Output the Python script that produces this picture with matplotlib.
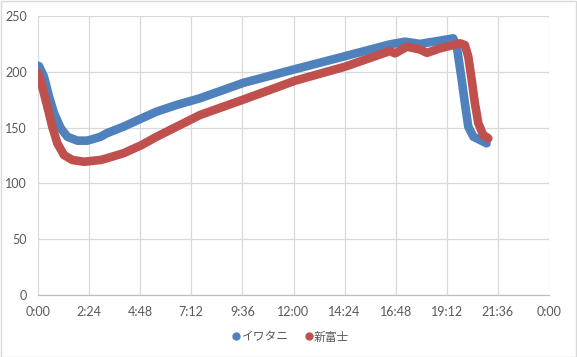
import matplotlib
matplotlib.use("Agg")
import matplotlib.pyplot as plt
from matplotlib.lines import Line2D
from matplotlib.patches import Rectangle

# Data (time in hours, values)
iwatani_t = [0.0, 0.05, 0.28, 0.52, 0.75, 1.07, 1.38, 1.85, 2.32, 2.94, 3.23, 4.01,
             4.87, 5.57, 6.51, 7.61, 9.63, 12.0, 14.42, 16.53, 17.24, 17.94, 18.9,
             19.5, 19.67, 19.74, 19.90, 20.05, 20.21, 20.45, 20.76, 21.07]
iwatani_v = [205.5, 205, 195.6, 177.7, 163, 149.4, 141.8, 138.3, 138.3, 141.8, 144.9, 150.8,
             158.3, 164.3, 170.3, 176.3, 190, 202, 214, 224.6, 227, 225, 228,
             230, 222.5, 213.5, 192.7, 171.8, 150.8, 141.8, 138.9, 135.9]

shinfuji_t = [0.0, 0.2, 0.44, 0.67, 0.91, 1.22, 1.61, 2.16, 2.94, 3.23, 4.01, 4.87,
              5.57, 6.51, 7.61, 9.63, 12.07, 14.42, 16.53, 16.77, 17.33, 17.94, 18.27,
              18.88, 19.82, 20.05, 20.21, 20.37, 20.52, 20.68, 20.91, 21.15]
shinfuji_v = [198.6, 186.6, 168.7, 150.8, 135.9, 125.4, 121, 119.4, 121, 122.5, 127, 134.4,
              141.8, 150.8, 161.3, 175, 192, 204.6, 218.6, 216.5, 222.5, 220, 217,
              221, 225.5, 224, 213.5, 192.7, 171.8, 153.9, 143.4, 140.4]

series_names = ["イワタニ", "新富士"]
series_colors = ["#4F81BD", "#C0504D"]

x_ticks = [0, 2.4, 4.8, 7.2, 9.6, 12.0, 14.4, 16.8, 19.2, 21.6, 24.0]
x_labels = ["0:00", "2:24", "4:48", "7:12", "9:36", "12:00", "14:24", "16:48", "19:12", "21:36", "0:00"]
y_ticks = [0, 50, 100, 150, 200, 250]

W, H = 577, 357
fig = plt.figure(figsize=(W / 100, H / 100), dpi=100)
ax = fig.add_axes([38 / W, 1 - 295 / H, (549 - 38) / W, (295 - 16) / H])

for t, v, c in [(iwatani_t, iwatani_v, series_colors[0]), (shinfuji_t, shinfuji_v, series_colors[1])]:
    ax.plot(t, v, color=c, lw=6.2, solid_capstyle="round", solid_joinstyle="round", zorder=3)

ax.set_xlim(0, 24)
ax.set_ylim(0, 250)
ax.set_xticks(x_ticks)
ax.set_xticklabels(x_labels)
ax.set_yticks(y_ticks)
ax.grid(True, color="#D9D9D9", lw=0.9)
ax.set_axisbelow(True)
for s in ["top", "right", "left"]:
    ax.spines[s].set_visible(False)
ax.spines["bottom"].set_color("#BFBFBF")
ax.spines["bottom"].set_linewidth(0.9)
ax.tick_params(length=0, colors="#595959", labelsize=9, pad=8)
for lab in ax.get_xticklabels() + ax.get_yticklabels():
    lab.set_fontfamily(["Lato", "DejaVu Sans"])

handles = [Line2D([], [], ls="none", marker="o", ms=5, color=c) for c in series_colors]
leg = fig.legend(handles, series_names, loc="center", bbox_to_anchor=(291 / W, 1 - 337 / H),
                 ncol=2, frameon=False, handlelength=0.6, handletextpad=0.15, columnspacing=1.4,
                 prop={"family": ["Noto Sans CJK JP", "DejaVu Sans"], "size": 8.5})
for txt in leg.get_texts():
    txt.set_color("#595959")

fig.patches.append(Rectangle((0.5 / W, 0.5 / H), 1 - 1.5 / W, 1 - 1.5 / H, transform=fig.transFigure,
                             fill=False, edgecolor="#D9D9D9", lw=1))

fig.savefig("out.png", dpi=100)
